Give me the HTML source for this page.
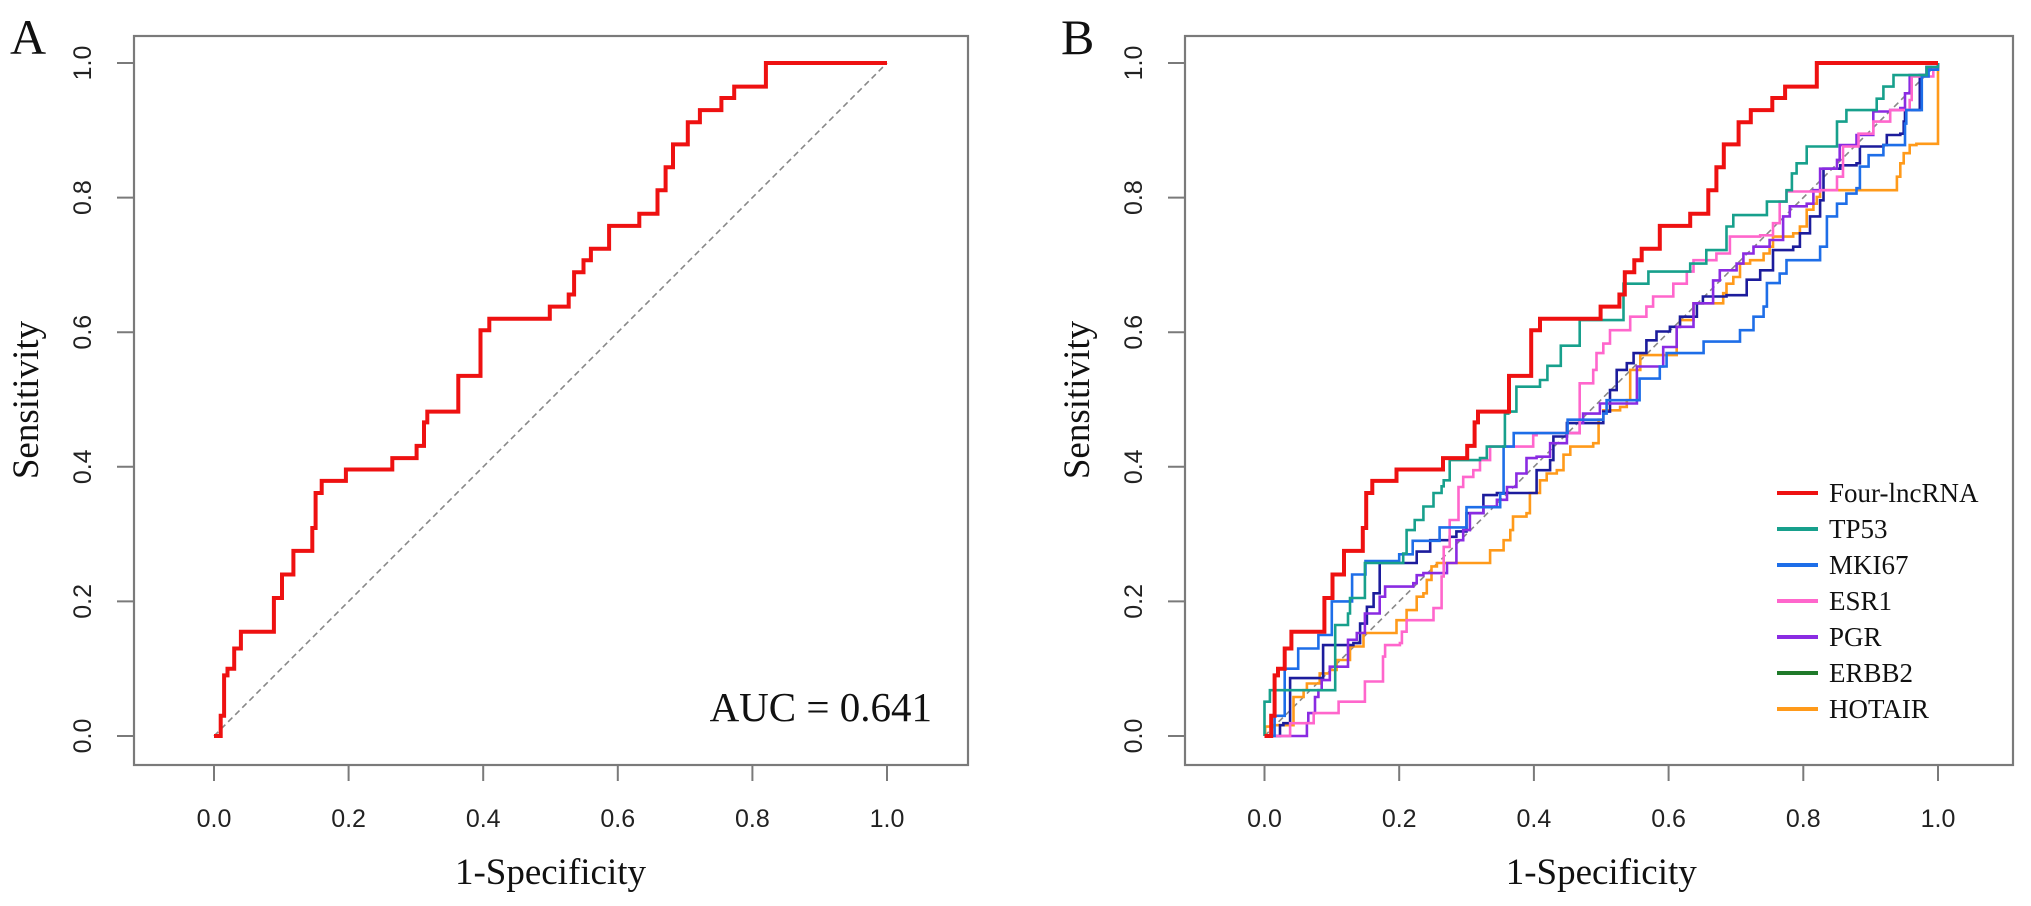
<!DOCTYPE html>
<html><head><meta charset="utf-8"><style>
html,body{margin:0;padding:0;background:#fff}
svg{display:block}
.tk{font-family:"Liberation Sans",Arial,sans-serif;font-size:25px;fill:#222}
.serif{font-family:"Liberation Serif","Times New Roman",serif;fill:#111}
</style></head><body>
<svg id="chart" width="2031" height="906" viewBox="0 0 2031 906" xmlns="http://www.w3.org/2000/svg">
<g id="panelA"></g>
<g id="panelB"></g>
</svg>
<script>
const tickValues = [0, 0.2, 0.4, 0.6, 0.8, 1.0];
const tickLabels = ["0.0","0.2","0.4","0.6","0.8","1.0"];
const seriesNames = ["Four-lncRNA","TP53","MKI67","ESR1","PGR","ERBB2","HOTAIR"];
const legendColors = ["#ee1111","#17a08c","#1e6ee8","#ff66cc","#8a2be2","#1f7a2a","#ff9a1a"];
const curveColors = ["#ee1111","#17a08c","#1e6ee8","#ff66cc","#8a2be2","#1c1c9c","#ff9a1a"];
const aucValue = "AUC = 0.641";

const fourLnc = [[0,0],[0.01,0],[0.01,0.03],[0.015,0.05],[0.015,0.09],[0.02,0.1],[0.03,0.1],[0.03,0.13],[0.04,0.155],[0.089,0.155],[0.089,0.205],[0.098,0.205],[0.101,0.24],[0.118,0.24],[0.118,0.275],[0.141,0.275],[0.146,0.309],[0.151,0.361],[0.16,0.361],[0.16,0.379],[0.196,0.379],[0.196,0.396],[0.265,0.396],[0.265,0.413],[0.299,0.413],[0.301,0.431],[0.309,0.431],[0.312,0.466],[0.317,0.482],[0.357,0.482],[0.363,0.535],[0.394,0.535],[0.396,0.603],[0.409,0.603],[0.409,0.62],[0.499,0.62],[0.499,0.638],[0.521,0.638],[0.527,0.656],[0.535,0.689],[0.546,0.689],[0.549,0.707],[0.559,0.707],[0.56,0.724],[0.585,0.724],[0.587,0.758],[0.631,0.758],[0.632,0.776],[0.654,0.776],[0.659,0.811],[0.67,0.811],[0.671,0.845],[0.682,0.845],[0.682,0.879],[0.701,0.879],[0.704,0.912],[0.721,0.912],[0.722,0.93],[0.752,0.93],[0.754,0.948],[0.772,0.948],[0.773,0.965],[0.82,0.965],[0.82,1.0],[1.0,1.0]];
const tp53 = [[0,0],[0,0.051],[0.008,0.051],[0.008,0.068],[0.033,0.068],[0.105,0.143],[0.105,0.165],[0.124,0.182],[0.127,0.205],[0.149,0.205],[0.149,0.257],[0.206,0.257],[0.206,0.271],[0.211,0.306],[0.223,0.321],[0.236,0.341],[0.251,0.361],[0.263,0.371],[0.266,0.38],[0.275,0.41],[0.32,0.413],[0.33,0.43],[0.357,0.479],[0.362,0.482],[0.374,0.5],[0.374,0.519],[0.404,0.519],[0.409,0.529],[0.42,0.55],[0.44,0.58],[0.468,0.618],[0.518,0.618],[0.533,0.672],[0.567,0.672],[0.57,0.69],[0.629,0.69],[0.632,0.702],[0.652,0.702],[0.656,0.722],[0.686,0.757],[0.696,0.774],[0.743,0.774],[0.746,0.794],[0.76,0.794],[0.775,0.811],[0.783,0.836],[0.79,0.851],[0.805,0.876],[0.85,0.878],[0.85,0.913],[0.864,0.93],[0.894,0.93],[0.909,0.947],[0.919,0.965],[0.934,0.982],[0.958,0.982],[0.983,0.994],[1.0,1.0]];
const mki67 = [[0,0],[0.015,0],[0.015,0.03],[0.03,0.05],[0.03,0.1],[0.05,0.1],[0.05,0.13],[0.08,0.15],[0.1,0.2],[0.13,0.24],[0.15,0.26],[0.2,0.27],[0.22,0.29],[0.26,0.31],[0.3,0.34],[0.35,0.36],[0.355,0.43],[0.37,0.45],[0.42,0.45],[0.45,0.47],[0.503,0.479],[0.508,0.499],[0.548,0.499],[0.557,0.531],[0.587,0.549],[0.597,0.569],[0.647,0.569],[0.652,0.586],[0.701,0.586],[0.706,0.603],[0.726,0.623],[0.741,0.638],[0.746,0.673],[0.765,0.687],[0.775,0.707],[0.82,0.707],[0.825,0.727],[0.835,0.772],[0.85,0.791],[0.864,0.806],[0.879,0.814],[0.884,0.846],[0.897,0.863],[0.919,0.878],[0.948,0.878],[0.951,0.91],[0.953,0.93],[0.973,0.93],[0.976,0.98],[0.986,0.99],[1.0,1.0]];
const esr1 = [[0,0],[0.033,0],[0.038,0.019],[0.07,0.019],[0.073,0.034],[0.11,0.034],[0.11,0.051],[0.142,0.051],[0.149,0.081],[0.176,0.118],[0.179,0.135],[0.201,0.138],[0.204,0.155],[0.211,0.172],[0.248,0.172],[0.251,0.19],[0.261,0.19],[0.263,0.237],[0.266,0.281],[0.275,0.321],[0.288,0.37],[0.295,0.385],[0.31,0.395],[0.32,0.41],[0.325,0.41],[0.335,0.43],[0.399,0.447],[0.404,0.45],[0.468,0.484],[0.468,0.524],[0.488,0.544],[0.493,0.569],[0.503,0.583],[0.513,0.603],[0.533,0.603],[0.543,0.623],[0.567,0.638],[0.577,0.653],[0.607,0.672],[0.627,0.69],[0.637,0.707],[0.671,0.717],[0.691,0.742],[0.736,0.744],[0.755,0.762],[0.765,0.794],[0.775,0.809],[0.825,0.811],[0.85,0.814],[0.85,0.831],[0.859,0.876],[0.882,0.895],[0.904,0.913],[0.929,0.93],[0.958,0.945],[0.961,0.98],[0.993,0.994],[1.0,1.0]];
const pgr = [[0,0],[0.028,0],[0.063,0.019],[0.065,0.034],[0.075,0.058],[0.08,0.068],[0.085,0.083],[0.097,0.103],[0.124,0.143],[0.137,0.153],[0.149,0.182],[0.171,0.207],[0.179,0.222],[0.221,0.227],[0.226,0.239],[0.236,0.242],[0.263,0.242],[0.271,0.257],[0.285,0.291],[0.295,0.306],[0.305,0.331],[0.325,0.341],[0.345,0.351],[0.36,0.37],[0.374,0.39],[0.389,0.413],[0.404,0.415],[0.424,0.435],[0.449,0.45],[0.468,0.465],[0.473,0.479],[0.498,0.494],[0.553,0.549],[0.592,0.578],[0.612,0.608],[0.637,0.643],[0.666,0.677],[0.676,0.692],[0.701,0.702],[0.711,0.717],[0.726,0.727],[0.75,0.737],[0.77,0.772],[0.78,0.787],[0.805,0.791],[0.815,0.811],[0.825,0.843],[0.85,0.856],[0.854,0.878],[0.879,0.893],[0.904,0.928],[0.929,0.93],[0.944,0.933],[0.951,0.955],[0.958,0.982],[0.983,0.994],[1.0,1.0]];
const erbb2 = [[0,0],[0.013,0],[0.023,0.016],[0.028,0.019],[0.038,0.086],[0.072,0.086],[0.087,0.135],[0.097,0.135],[0.132,0.138],[0.142,0.167],[0.152,0.192],[0.162,0.212],[0.171,0.257],[0.211,0.257],[0.226,0.274],[0.246,0.291],[0.275,0.296],[0.285,0.304],[0.3,0.331],[0.325,0.358],[0.345,0.361],[0.394,0.361],[0.404,0.395],[0.424,0.41],[0.429,0.445],[0.449,0.465],[0.498,0.465],[0.503,0.482],[0.513,0.514],[0.523,0.544],[0.538,0.554],[0.548,0.569],[0.567,0.588],[0.582,0.601],[0.602,0.608],[0.617,0.623],[0.642,0.643],[0.651,0.653],[0.686,0.655],[0.716,0.678],[0.736,0.692],[0.755,0.722],[0.785,0.727],[0.795,0.747],[0.81,0.772],[0.825,0.796],[0.83,0.843],[0.855,0.848],[0.879,0.851],[0.884,0.876],[0.919,0.878],[0.924,0.893],[0.944,0.895],[0.949,0.913],[0.951,0.93],[0.973,0.982],[0.983,0.994],[1.0,1.0]];
const hotair = [[0,0],[0.001,0.014],[0.013,0.016],[0.043,0.058],[0.058,0.068],[0.063,0.078],[0.082,0.093],[0.097,0.098],[0.107,0.113],[0.127,0.133],[0.147,0.153],[0.186,0.153],[0.196,0.172],[0.211,0.187],[0.226,0.207],[0.236,0.212],[0.241,0.232],[0.248,0.252],[0.256,0.257],[0.33,0.257],[0.335,0.276],[0.355,0.291],[0.365,0.306],[0.369,0.326],[0.389,0.331],[0.394,0.361],[0.409,0.38],[0.419,0.39],[0.434,0.395],[0.444,0.418],[0.454,0.43],[0.488,0.435],[0.496,0.47],[0.503,0.484],[0.528,0.489],[0.538,0.499],[0.543,0.544],[0.558,0.566],[0.612,0.608],[0.617,0.618],[0.637,0.643],[0.681,0.658],[0.686,0.672],[0.696,0.682],[0.706,0.702],[0.721,0.707],[0.741,0.717],[0.75,0.727],[0.755,0.742],[0.785,0.747],[0.795,0.757],[0.805,0.782],[0.815,0.791],[0.82,0.801],[0.825,0.811],[0.934,0.811],[0.939,0.831],[0.944,0.851],[0.949,0.866],[0.958,0.878],[0.968,0.88],[1.0,0.989],[1.0,1.0]];
const panelBSeries = [fourLnc, tp53, mki67, esr1, pgr, erbb2, hotair];

const NS = "http://www.w3.org/2000/svg";
function mk(parent, tag, attrs, text){
  const e = document.createElementNS(NS, tag);
  for (const k in attrs) e.setAttribute(k, attrs[k]);
  if (text !== undefined) e.textContent = text;
  parent.appendChild(e);
  return e;
}

function drawPanel(g, cfg){
  const xs = v => cfg.x0 + cfg.unit * v;
  const ys = v => 736 - 673 * v;
  const box = mk(g, "rect", {x:cfg.bl, y:36, width:cfg.br-cfg.bl, height:729, fill:"none", stroke:"#7a7a7a", "stroke-width":2.2});
  
  
  tickValues.forEach((v,i)=>{
    const t = mk(g, "line", {x1:xs(v), x2:xs(v), y1:765, y2:781, stroke:"#7a7a7a", "stroke-width":2});
    
    
    const l = mk(g, "text", {x:xs(v), y:827, "text-anchor":"middle", class:"tk"}, tickLabels[i]);
    
    
    const ty = mk(g, "line", {x1:cfg.bl-17, x2:cfg.bl, y1:ys(v), y2:ys(v), stroke:"#7a7a7a", "stroke-width":2});
    
    
    const ly = mk(g, "text", {x:0, y:0, "text-anchor":"middle", class:"tk", transform:`translate(${cfg.bl-43},${ys(v)}) rotate(-90)`}, tickLabels[i]);
    
    
  });
  const xt = mk(g, "text", {x:(xs(0)+xs(1))/2, y:884, "text-anchor":"middle", class:"serif", "font-size":37}, "1-Specificity");
  
  
  const yt = mk(g, "text", {x:0, y:0, "text-anchor":"middle", class:"serif", "font-size":37, transform:`translate(${cfg.bl-96},400) rotate(-90)`}, "Sensitivity");
  
  
  const pl = mk(g, "text", {x:cfg.bl-124, y:54, class:"serif", "font-size":50}, cfg.label);
  
  
  const diag = mk(g, "line", {x1:xs(0), y1:ys(0), x2:xs(1), y2:ys(1), stroke:"#888", "stroke-width":1.6, "stroke-dasharray":"6,4"});
  
  
  return {xs, ys};
}

function drawCurve(g, sc, pts, color, w, name){
  let d = "M" + sc.xs(pts[0][0]).toFixed(1) + "," + sc.ys(pts[0][1]).toFixed(1);
  for (let i = 1; i < pts.length; i++) {
    d += " H" + sc.xs(pts[i][0]).toFixed(1) + " V" + sc.ys(pts[i][1]).toFixed(1);
  }
  const p = mk(g, "path", {d, fill:"none", stroke:color, "stroke-width":w, "stroke-linejoin":"miter"});
  
  
}

const gA = document.getElementById("panelA");
const scA = drawPanel(gA, {x0:214, unit:673, bl:134, br:968, label:"A"});
drawCurve(gA, scA, fourLnc, curveColors[0], 4, "roc-curve-four-lncrna");
const auc = mk(gA, "text", {x:932, y:721, "text-anchor":"end", class:"serif", "font-size":41}, aucValue);



const gB = document.getElementById("panelB");
const scB = drawPanel(gB, {x0:1264.5, unit:673.5, bl:1185, br:2013, label:"B"});
const order = [6,5,4,3,2,1,0];
order.forEach(i=>{
  drawCurve(gB, scB, panelBSeries[i], curveColors[i], i===0?4:2.6, "roc-curve-"+seriesNames[i].toLowerCase());
});
const leg = mk(gB, "g", {});


seriesNames.forEach((n,i)=>{
  const y = 493 + i*36;
  const ln = mk(leg, "line", {x1:1777, x2:1818, y1:y, y2:y, stroke:legendColors[i], "stroke-width":4});
  
  
  const tx = mk(leg, "text", {x:1829, y:y+9, class:"serif", "font-size":27}, n);
  
  
});
</script>
</body></html>
